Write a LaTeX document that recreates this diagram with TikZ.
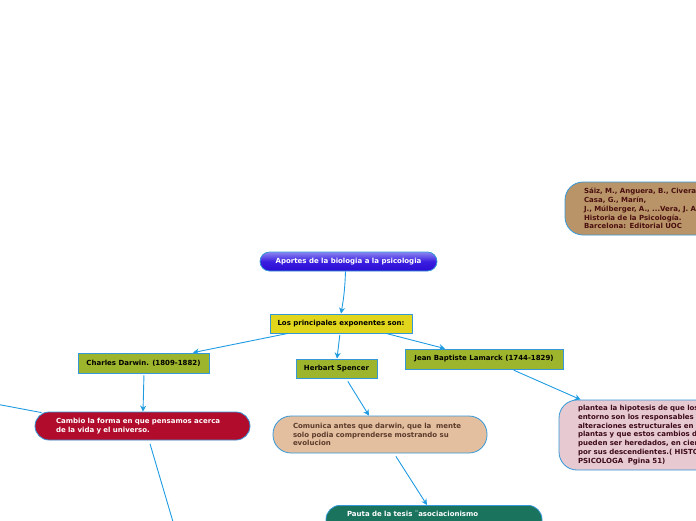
\documentclass[tikz,border=0pt]{standalone}
\usepackage{fontspec}
\setmainfont{DejaVu Sans}
\usetikzlibrary{arrows.meta}
\definecolor{bord}{HTML}{3598D8}
\definecolor{conn}{HTML}{1F9BE2}
\definecolor{titletop}{HTML}{8C85F2}
\definecolor{titlemid}{HTML}{3A1EE0}
\definecolor{titlebot}{HTML}{2A0CD2}
\definecolor{yel}{HTML}{E2D61C}
\definecolor{grn}{HTML}{9DB52D}
\definecolor{redb}{HTML}{B10C2C}
\definecolor{tan}{HTML}{E3BF9F}
\definecolor{pink}{HTML}{E6C9D1}
\definecolor{reftan}{HTML}{B99468}
\definecolor{dgreen}{HTML}{1A735C}
\definecolor{reftext}{HTML}{4A0F0F}
\definecolor{pinktext}{HTML}{3D0A1A}
\definecolor{tantext}{HTML}{5B3B2B}
\begin{document}
\begin{tikzpicture}[x=1pt,y=-1pt,
  font=\fontsize{7}{8.75}\selectfont\bfseries,
  box/.style={draw=bord, line width=0.8pt, inner sep=0pt},
  rectbox/.style={box, minimum height=19pt},
  pill/.style={box, align=left},
  conn/.style={draw=conn, line width=0.9pt, -{Stealth[length=6pt,width=6pt]}},
  plain/.style={draw=conn, line width=0.9pt}]
\useasboundingbox (0,0) rectangle (696,520);
\clip (0,0) rectangle (696,520);

% reference box
\node[pill, fill=reftan, rounded corners=18pt, text=reftext, text width=160pt, inner xsep=19pt, minimum height=53pt] (ref) at (664,208.5)
 {Sáiz, M., Anguera, B., Civera, C.,\\Casa, G., Marín,\\J., Múlberger, A., ...Vera, J. A.\\Historia de la Psicología.\\Barcelona: Editorial UOC};

% title
\node[box, rounded corners=9.5pt, top color=titletop, bottom color=titlebot, middle color=titlemid, text=white, minimum width=177pt, minimum height=19pt] (title) at (348.5,261.5) {Aportes de la biologia a la psicologia};

% main
\node[rectbox, fill=yel, minimum width=142pt] (main) at (341,323.5) {Los principales exponentes son:};

\node[rectbox, fill=grn, minimum width=131pt, minimum height=20pt] (darwin) at (143.5,363) {Charles Darwin. (1809-1882)};
\node[rectbox, fill=grn, minimum width=81pt] (spencer) at (336.5,368.5) {Herbart Spencer};
\node[rectbox, fill=grn, minimum width=158pt, minimum height=20pt] (lamarck) at (484,359) {Jean Baptiste Lamarck (1744-1829)};

\node[pill, fill=redb, rounded corners=14pt, text=white, text width=173pt, inner xsep=21pt, minimum height=28pt] (cambio) at (142.5,426)
 {Cambio la forma en que pensamos acerca\\de la vida y el universo.};

\node[pill, fill=tan, rounded corners=18pt, text=tantext, text width=174pt, inner xsep=20pt, minimum height=37pt] (comunica) at (380,434.5)
 {Comunica antes que darwin, que la\ \ mente\\solo podia comprenderse mostrando su\\evolucion};

\node[pill, fill=pink, rounded corners=18pt, text=pinktext, text width=184pt, inner xsep=19pt, minimum height=70pt] (plantea) at (670,435)
 {plantea la hipotesis de que los cambios del\\entorno son los responsables de las\\alteraciones estructurales en animales y\\plantas y que estos cambios de estructuras\\pueden ser heredados, en ciertas condiciones,\\por sus descendientes.( HISTORIA DE LA\\PSICOLOGA\ \ Pgina 51)};

\node[pill, fill=dgreen, rounded corners=14pt, text=white, text width=174pt, inner xsep=21pt, inner ysep=6pt, text depth=22pt, anchor=north] (pauta) at (434,505)
 {Pauta de la tesis ¨asociacionismo};

% off-picture ends
\coordinate (offL) at (-20,401);
\coordinate (offB) at (176,532);

% connectors
\draw[conn] ([xshift=-3pt]title.south) to[bend left=4] (main.north);
\draw[conn] ([xshift=-53pt]main.south) -- ([xshift=49.5pt]darwin.north);
\draw[conn, shorten <=1.5pt] ([xshift=-1pt]main.south) -- ([xshift=0.5pt]spencer.north);
\draw[conn] ([xshift=45pt]main.south) -- ([xshift=-39pt]lamarck.north);
\draw[conn, shorten <=2pt] ([xshift=0.5pt]darwin.south) -- ([xshift=0.5pt]cambio.north);
\draw[conn, shorten <=3.5pt] ([xshift=9.5pt]spencer.south) -- ([xshift=-11pt]comunica.north);
\draw[conn, shorten <=2pt] ([xshift=28pt]lamarck.south) -- ([xshift=22pt]plantea.north west);
\draw[conn, shorten <=3.5pt] ([xshift=14pt]comunica.south) -- ([xshift=-7pt]pauta.north);
\draw[plain] (offL) -- ([xshift=7pt,yshift=-1pt]cambio.north west);
\draw[plain, shorten <=3.5pt] ([xshift=6.5pt]cambio.south) -- (offB);
\end{tikzpicture}
\end{document}
